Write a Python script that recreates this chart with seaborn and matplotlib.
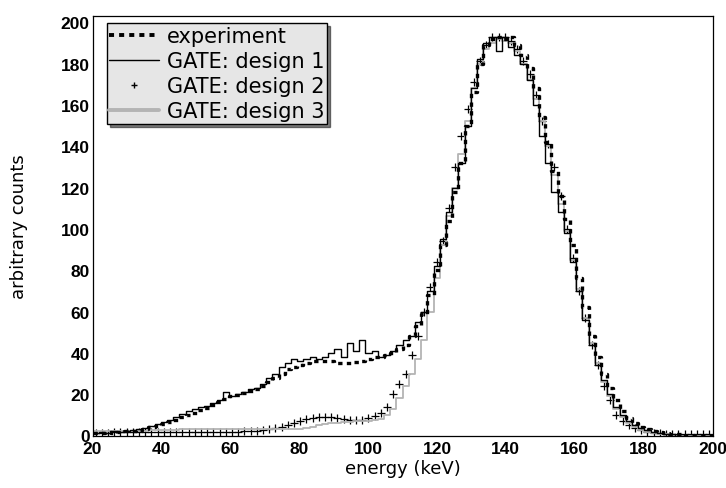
import numpy as np
import pandas as pd
import matplotlib
matplotlib.use("Agg")
import matplotlib.pyplot as plt
import matplotlib.transforms as mtransforms
from matplotlib.lines import Line2D
from matplotlib.ticker import MultipleLocator
import seaborn as sns

# 100 bins, 20 - 200 keV
energy_min, energy_max, n_bins = 20, 200, 100

experiment = [1, 1, 1.5, 1, 1.5, 2, 2, 2.5, 3, 4,
              4.5, 5.5, 6.5, 7.5, 9, 10, 11, 12.5, 13.5, 15,
              16, 17.5, 19, 19.5, 20.5, 21.5, 22.5, 24, 26, 28,
              30, 32, 33, 34, 35, 36, 36, 36, 36, 35,
              35, 35, 35.5, 36, 37, 38, 38, 39, 40, 42,
              44, 48, 53, 59, 68, 80, 92, 104, 118, 132,
              150, 166, 180, 189, 192, 193, 192, 193, 189, 184,
              178, 168, 154, 142, 128, 116, 105, 92, 76, 62,
              48, 38, 30, 23, 17, 12, 8.5, 6, 4, 3,
              2, 1.5, 1, 0.5, 0.5, 0, 0, 0, 0, 0]

design_1 = [1, 1.5, 1, 2, 1.5, 2, 2.5, 3, 3.5, 4.5,
            5.5, 6.5, 7.5, 9, 10.5, 12, 13, 14, 14.5, 15.5,
            17, 21, 19, 20, 21, 22.5, 23, 25, 28, 30,
            33, 35, 37, 36, 37, 38, 37, 38, 40, 42,
            38, 45, 41, 46, 40, 41, 38, 39, 41, 44,
            46, 48, 55, 60, 70, 82, 95, 108, 120, 132,
            150, 168, 182, 190, 193, 186, 193, 188, 184, 180,
            172, 160, 145, 132, 118, 108, 98, 84, 70, 56,
            44, 34, 27, 20, 14, 10, 7, 5, 3.5, 2.5,
            1.5, 1, 0.5, 0.5, 0, 0, 0, 0, 0, 0]

design_2 = [1, 1, 1, 1.5, 1.5, 1.5, 1.5, 1.5, 1.5, 1.5,
            1.5, 1.5, 1.5, 1.5, 1.5, 1.5, 1.5, 1.5, 1.5, 1.5,
            1.5, 1.5, 1.5, 1.5, 2, 2, 2, 2.5, 3, 3.5,
            4, 5, 6, 7, 8, 8.5, 9, 9, 9, 8.5,
            8, 7.5, 7.5, 7.5, 8.5, 9.5, 11, 14, 20, 25,
            30, 39, 48, 60, 72, 84, 94, 110, 130, 145,
            158, 171, 181, 189, 193, 193, 193, 191, 187, 181,
            175, 165, 152, 141, 130, 116, 100, 86, 70, 57,
            44, 34, 24, 17, 10, 7, 5, 3.5, 2.5, 1.5,
            1, 1, 0.5, 0.5, 0.5, 0.5, 0.5, 0.5, 0.5, 0.5]

design_3 = [2, 2, 2, 2, 2, 2, 2, 2, 2, 2.5,
            2.5, 2.5, 2.5, 2.5, 3, 3, 3, 3, 3, 3,
            3, 3, 3, 3, 3, 3, 3, 3, 3, 3,
            3, 3, 3, 3, 3.5, 4, 5, 5.5, 6, 6,
            6.5, 6.5, 7, 7, 7, 7.5, 8, 10, 13, 18,
            24, 30, 37, 46, 60, 76, 92, 106, 120, 136,
            152, 168, 180, 187, 190, 192, 191, 190, 186, 180,
            172, 163, 152, 140, 126, 112, 99, 85, 71, 57,
            45, 35, 26, 19, 13, 9, 6, 4, 2.5, 1.5,
            1, 0.5, 0.5, 0, 0, 0, 0, 0, 0, 0]

labels = ["experiment", "GATE: design 1", "GATE: design 2", "GATE: design 3"]

edges = list(np.linspace(energy_min, energy_max, n_bins + 1))
centers = [(a + b) / 2 for a, b in zip(edges[:-1], edges[1:])]
df = pd.DataFrame({"energy": centers, "experiment": experiment, "design_1": design_1,
                   "design_2": design_2, "design_3": design_3})

sns.set_style("white", {"text.color": "black", "axes.labelcolor": "black",
                        "xtick.color": "black", "ytick.color": "black"})
plt.rcParams["font.family"] = ["DejaVu Sans"]

fig = plt.figure(figsize=(7.26, 4.89), dpi=100)
ax = fig.add_axes([92.5 / 726, 52.5 / 489, 620 / 726, 419.5 / 489])

grey = "#b4b4b4"
dash = (0, (1.3, 1.3))

sns.histplot(data=df, x="energy", weights="design_3", bins=edges, element="step",
             fill=False, color=grey, linewidth=1.3, ax=ax)
sns.histplot(data=df, x="energy", weights="experiment", bins=edges, element="step",
             fill=False, color="black", linewidth=2.4, linestyle=dash, ax=ax)
sns.histplot(data=df, x="energy", weights="design_1", bins=edges, element="step",
             fill=False, color="black", linewidth=1.0, ax=ax)
sns.scatterplot(data=df, x="energy", y="design_2", marker="+", s=40, color="black",
                linewidth=0.9, ax=ax)

ax.set_xlim(energy_min, energy_max)
ax.set_ylim(0, 203)
ax.xaxis.set_major_locator(MultipleLocator(20))
ax.xaxis.set_minor_locator(MultipleLocator(5))
ax.yaxis.set_major_locator(MultipleLocator(20))
ax.yaxis.set_minor_locator(MultipleLocator(4))
ax.tick_params(which="both", direction="in", top=False, right=False,
               color="black", labelcolor="black", width=0.8)
ax.tick_params(which="major", length=8)
ax.tick_params(axis="x", which="major", pad=4)
ax.tick_params(axis="y", which="major", pad=2)
ax.tick_params(which="minor", length=4)
for lab in ax.get_xticklabels() + ax.get_yticklabels():
    lab.set_fontfamily("Liberation Sans")
    lab.set_fontweight("bold")
    lab.set_fontsize(12.5)

# lift the "0" label a little so it sits just above the "20" of the x axis
zero_lab = ax.yaxis.get_major_ticks()[0].label1
zero_lab.set_transform(zero_lab.get_transform()
                       + mtransforms.ScaledTranslation(0, 3 / 100, fig.dpi_scale_trans))

for sp in ax.spines.values():
    sp.set_color("black")
    sp.set_linewidth(0.9)

ax.set_xlabel("energy (keV)", fontsize=13, color="black")
ax.set_ylabel("arbitrary counts", fontsize=13, color="black")
ax.xaxis.set_label_coords(0.5, -0.056)
ax.yaxis.set_label_coords(-0.104, 0.5)

handles = [
    Line2D([], [], color="black", lw=2.8, linestyle=dash),
    Line2D([], [], color="black", lw=1.0),
    Line2D([], [], color="black", marker="+", linestyle="none", markersize=5),
    Line2D([], [], color=grey, lw=2.8),
]
ax.legend(handles, labels, loc="upper left", bbox_to_anchor=(0.023, 0.983),
          borderaxespad=0, fancybox=False, shadow={"color": "black"},
          facecolor="#e6e6e6", edgecolor="black", framealpha=1, fontsize=15,
          labelcolor="black", handlelength=2.4, handletextpad=0.35,
          labelspacing=0.25, borderpad=0.13)

fig.savefig("out.png", dpi=100)
